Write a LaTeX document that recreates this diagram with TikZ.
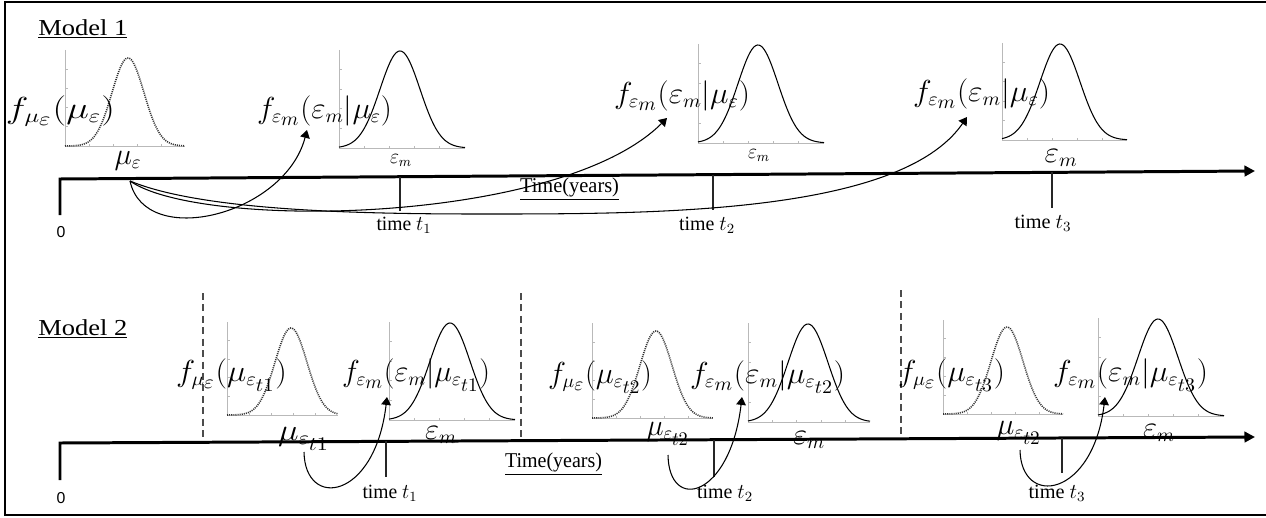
\documentclass[tikz,border=0pt]{standalone}
\usepackage{fontspec}
\setmainfont{Liberation Serif}
\newfontfamily\sansf{Liberation Sans}
\usepackage{graphicx}
\usetikzlibrary{arrows.meta}
\newlength\pxl
\setlength\pxl{0.02cm}
\newcommand\fitw[2]{\resizebox{#1\pxl}{\height}{#2}}
\newcommand\sst{\scriptstyle}
% #1 x0, #2 x1, #3 ytop, #4 ybase, #5 xc, #6 ypeak, #7 sigma, #8 curve style
\newcommand\gplot[8]{%
  \draw[gaxis] (#1,#3) -- (#1,#4) -- (#2,#4);
  \foreach \k in {1,2,3,4}{\draw[gaxis] ({#1+\k*(#2-#1)/5},#4) -- ++(0,-2.5);}
  \foreach \k in {1,2,3,4}{\draw[gaxis] (#1,{#4-\k*(#4-#3)/5}) -- ++(2.5,0);}
  \draw[#8] plot[domain=#1:#2, samples=90, smooth] (\x,{#4-(#4-#6)*exp(-((\x-#5)^2)/(2*#7*#7))});
}
\tikzset{
  gaxis/.style={draw=gray!55, line width=0.5pt},
  dotcurve/.style={black!80, line width=0.9pt, dash pattern=on 0.6pt off 0.6pt},
  solcurve/.style={black, line width=0.6pt},
  axisline/.style={line width=1.7pt, line join=miter, -{Triangle[length=6pt,width=6pt]}},
  tickline/.style={black!85, line width=0.6pt},
  sepline/.style={black!70, line width=0.6pt, dash pattern=on 4pt off 2.5pt},
  flow/.style={line width=0.6pt, -{Triangle[length=4.5pt,width=5.5pt]}},
  mlbl/.style={inner sep=0pt, anchor=base, font=\fontsize{16}{18}\selectfont},
  slbl/.style={inner sep=0pt, anchor=base, font=\fontsize{11.5}{13}\selectfont},
  tlbl/.style={inner sep=0pt, anchor=base, font=\fontsize{11.5}{13}\selectfont},
  ylbl/.style={inner sep=0pt, anchor=base, font=\fontsize{12}{14}\selectfont},
  modlbl/.style={inner sep=0pt, anchor=base west, font=\fontsize{13}{15}\selectfont},
  zlbl/.style={inner sep=0pt, anchor=center, font=\sansf\fontsize{9}{11}\selectfont},
  frame/.style={line width=1.1pt}
}
\begin{document}
\begin{tikzpicture}[x=0.02cm, y=-0.02cm]
\useasboundingbox (0,0) rectangle (1266,517);
% frame
\draw[frame] (1266,2) -- (5,2) -- (5,515) -- (1266,515);

% ===== Model 1 =====
\gplot{65}{185}{50}{146}{128}{58}{16}{dotcurve}
\gplot{339}{465}{50}{148}{400}{51}{20}{solcurve}
\gplot{698}{824}{44}{143}{758}{45}{20}{solcurve}
\gplot{1002}{1127}{43}{140}{1060}{44}{20}{solcurve}

\coordinate (o1) at (60,215);
\coordinate (a1s) at (60,179);
\coordinate (a1e) at (1255,171);
\draw[axisline] (o1) -- (a1s) -- (a1e);
\draw[tickline] (400,176.7) -- (400,211);
\draw[tickline] (713,174.6) -- (713,210);
\draw[tickline] (1052,172.4) -- (1052,208);

\node[modlbl] (model1) at (38,35) {\fitw{89}{\underline{Model 1}}};
\node[zlbl] (z1) at (61,232.5) {0};
\node[ylbl] (ty1) at (569.5,192) {\fitw{99}{\underline{Time(years)}}};
\node[tlbl] (tl1) at (404,230) {\fitw{55}{time $t_1$}};
\node[tlbl] (tl2) at (707,230) {\fitw{56}{time $t_2$}};
\node[tlbl] (tl3) at (1043,228) {\fitw{57}{time $t_3$}};

\node[mlbl] (fA) at (60.5,118) {\fitw{109}{$f_{\mu_{\sst\varepsilon}}(\mu_\varepsilon)$}};
\node[mlbl] (muA) at (128,164) {\fitw{27}{$\mu_\varepsilon$}};
\node[mlbl] (fB) at (324.5,118) {\fitw{135}{$f_{\varepsilon_{\sst m}}(\varepsilon_m|\mu_\varepsilon)$}};
\node[slbl] (eB) at (401,163) {\fitw{22}{$\varepsilon_m$}};
\node[mlbl] (fC) at (682,103) {\fitw{136}{$f_{\varepsilon_{\sst m}}(\varepsilon_m|\mu_\varepsilon)$}};
\node[slbl] (eC) at (759,158) {\fitw{22}{$\varepsilon_m$}};
\node[mlbl] (fD) at (981.5,101) {\fitw{137}{$f_{\varepsilon_{\sst m}}(\varepsilon_m|\mu_\varepsilon)$}};
\node[mlbl] (eD) at (1061,162) {\fitw{33}{$\varepsilon_m$}};

\coordinate (src1) at (130,181);
\coordinate (tipB) at (307,130);
\coordinate (tipC) at (667,118);
\coordinate (tipD) at (967,117);
\coordinate (low3) at (480,214);
\draw[flow] (src1) .. controls (145,250) and (285,215) .. (tipB);
\draw[flow] (src1) .. controls (200,230) and (560,225) .. (tipC);
\draw[flow] (src1) .. controls (200,210) and (350,214) .. (low3)
                   .. controls (650,214) and (900,215) .. (tipD);

% ===== Model 2 =====
\gplot{227}{338}{322}{415}{291}{328}{16}{dotcurve}
\gplot{389}{515}{322}{420}{450}{323}{20}{solcurve}
\gplot{592}{713}{323}{418}{656}{331}{16}{dotcurve}
\gplot{748}{870}{323}{422}{808}{324}{20}{solcurve}
\gplot{943}{1063}{320}{414}{1007}{327}{16}{dotcurve}
\gplot{1098}{1224}{318}{416}{1158}{319}{20}{solcurve}

\draw[sepline] (203,293) -- (203,442.3);
\draw[sepline] (521,293) -- (521,440.7);
\draw[sepline] (901,290) -- (901,438.8);

\coordinate (o2) at (60,480);
\coordinate (a2s) at (60,443);
\coordinate (a2e) at (1255,437);
\draw[axisline] (o2) -- (a2s) -- (a2e);
\draw[tickline] (386,441.4) -- (386,477);
\draw[tickline] (714,439.7) -- (714,477);
\draw[tickline] (1062,438.0) -- (1062,473);

\node[modlbl] (model2) at (38,335) {\fitw{89}{\underline{Model 2}}};
\node[zlbl] (z2) at (61,498) {0};
\node[ylbl] (ty2) at (553.5,467) {\fitw{97}{\underline{Time(years)}}};
\node[tlbl] (tm1) at (390,498) {\fitw{55}{time $t_1$}};
\node[tlbl] (tm2) at (725,498) {\fitw{56}{time $t_2$}};
\node[tlbl] (tm3) at (1057,498) {\fitw{57}{time $t_3$}};

\node[mlbl] (g1) at (231.5,381) {\fitw{111}{$f_{\mu_{\sst\varepsilon}}(\mu_{\varepsilon_{\sst t1}})$}};
\node[mlbl] (mu1) at (304,440) {\fitw{52}{$\mu_{\varepsilon_{\sst t1}}$}};
\node[mlbl] (g2) at (416,381) {\fitw{148}{$f_{\varepsilon_{\sst m}}(\varepsilon_m|\mu_{\varepsilon_{\sst t1}})$}};
\node[mlbl] (e2) at (441,439) {\fitw{32}{$\varepsilon_m$}};
\node[mlbl] (g3) at (600,383) {\fitw{104}{$f_{\mu_{\sst\varepsilon}}(\mu_{\varepsilon_{\sst t2}})$}};
\node[mlbl] (mu2) at (668,435) {\fitw{43}{$\mu_{\varepsilon_{\sst t2}}$}};
\node[mlbl] (g4) at (767.5,383) {\fitw{155}{$f_{\varepsilon_{\sst m}}(\varepsilon_m|\mu_{\varepsilon_{\sst t2}})$}};
\node[mlbl] (e4) at (809,444) {\fitw{32}{$\varepsilon_m$}};
\node[mlbl] (g5) at (951.5,381) {\fitw{107}{$f_{\mu_{\sst\varepsilon}}(\mu_{\varepsilon_{\sst t3}})$}};
\node[mlbl] (mu3) at (1019,434) {\fitw{45}{$\mu_{\varepsilon_{\sst t2}}$}};
\node[mlbl] (g6) at (1130.5,381) {\fitw{155}{$f_{\varepsilon_{\sst m}}(\varepsilon_m|\mu_{\varepsilon_{\sst t3}})$}};
\node[mlbl] (e6) at (1159,437) {\fitw{32}{$\varepsilon_m$}};

\coordinate (s21) at (304,452);
\coordinate (s22) at (668,455);
\coordinate (s23) at (1020,450);
\coordinate (t21) at (387,397);
\coordinate (t22) at (742,397);
\coordinate (t23) at (1105,397);
\draw[flow] (s21) .. controls (305,510) and (375,500) .. (t21);
\draw[flow] (s22) .. controls (669,513) and (730,498) .. (t22);
\draw[flow] (s23) .. controls (1021,508) and (1093,498) .. (t23);
\end{tikzpicture}
\end{document}
